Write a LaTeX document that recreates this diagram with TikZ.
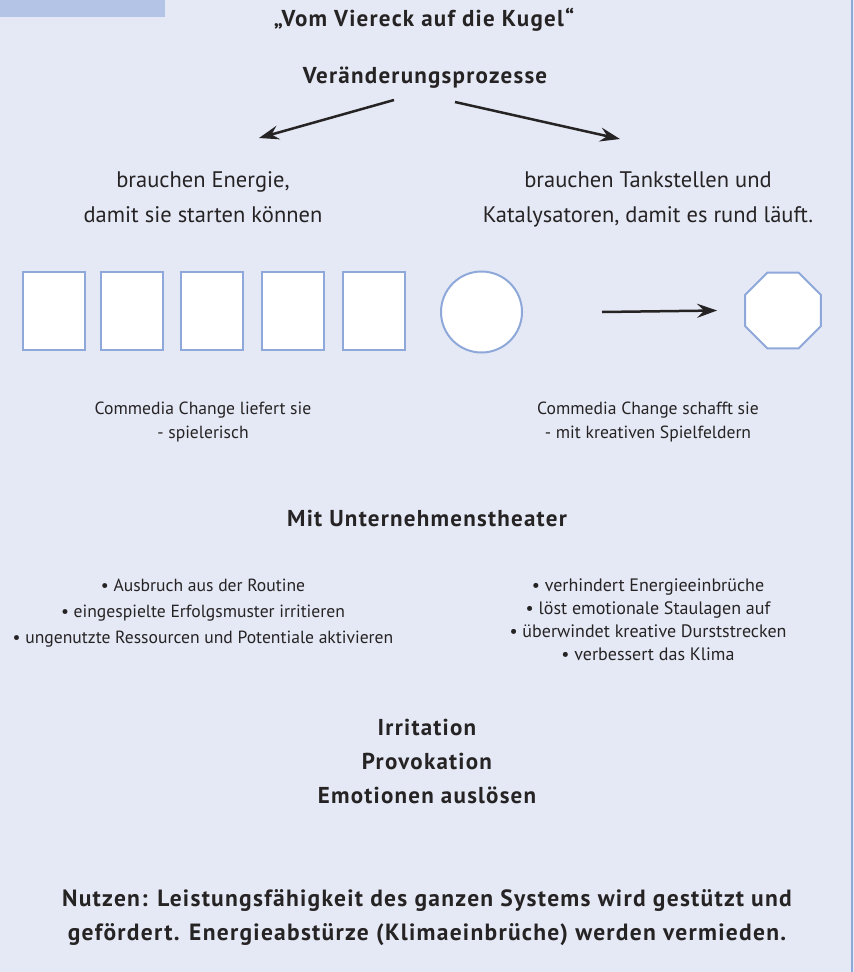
\documentclass[tikz,border=0pt]{standalone}
\usepackage{fontspec}
\setmainfont{PT Sans}
\newfontfamily\bfam{PT Sans}[LetterSpace=5.4]
\usetikzlibrary{arrows.meta,shapes.geometric}
\definecolor{bg}{HTML}{E5E9F5}
\definecolor{tabc}{HTML}{B4C4E6}
\definecolor{edgec}{HTML}{8FA8DA}
\definecolor{ink}{HTML}{262324}
\begin{document}
\begin{tikzpicture}[x=1pt,y=-1pt,
  txt/.style={text=ink, align=center, inner sep=0pt, anchor=base},
  big/.style={txt, font=\fontsize{22.5}{35}\selectfont},
  small/.style={txt, font=\fontsize{17.6}{24}\selectfont},
  head/.style={txt, font=\bfam\bfseries\fontsize{23}{34}\selectfont},
  frame/.style={draw=edgec, line width=2pt, fill=white, inner sep=0pt},
  rectbox/.style={frame, rectangle, minimum width=62pt, minimum height=78pt},
  arr/.style={draw=ink, line width=2.5pt, -{Stealth[length=20pt,width=14pt,inset=7pt]}}
]
\fill[bg] (0,0) rectangle (854,972);
\useasboundingbox (0,0) rectangle (854,972);
\fill[tabc] (0,0) rectangle (165,17);
\draw[edgec, line width=2pt] (852,0) -- (852,972);

\node[head] (title) at (424,26) {„Vom Viereck auf die Kugel“};
\node[head] (vp) at (425,83) {Veränderungsprozesse};

\coordinate (la) at (394,100);
\coordinate (lb) at (259,138);
\coordinate (ra) at (455,102);
\coordinate (rb) at (620,139);
\draw[arr] (la) -- (lb);
\draw[arr] (ra) -- (rb);

\node[big] (left1) at (203,222) {brauchen Energie,\\damit sie starten können};
\node[big] (right1) at (648,222) {brauchen Tankstellen und\\Katalysatoren, damit es rund läuft.};

\node[rectbox] (r1) at (53.5,311) {};
\node[rectbox] (r2) at (132,311) {};
\node[rectbox] (r3) at (211.5,311) {};
\node[rectbox] (r4) at (292.5,311) {};
\node[rectbox] (r5) at (373.5,311) {};
\node[frame, circle, minimum size=81pt] (ball) at (481.5,312) {};
\node[frame, regular polygon, regular polygon sides=8, minimum size=82pt] (oct) at (783,310.5) {};
\coordinate (ha) at ([xshift=79pt]ball.east);
\coordinate (hb) at ([xshift=-27pt]oct.west);
\draw[arr] (ha) -- (hb);

\node[small] (cc1) at (203,438) {Commedia Change liefert sie\\- spielerisch};
\node[small] (cc2) at (648,438) {Commedia Change schafft sie\\- mit kreativen Spielfeldern};

\node[head] (ut) at (427,526) {Mit Unternehmenstheater};

\node[small, font=\fontsize{17.6}{26}\selectfont] (lbul) at (203,643) {• Ausbruch aus der Routine\\• eingespielte Erfolgsmuster irritieren\\• ungenutzte Ressourcen und Potentiale aktivieren};
\node[small, font=\fontsize{18}{23}\selectfont] (rbul) at (648,660) {• verhindert Energieeinbrüche\\• löst emotionale Staulagen auf\\• überwindet kreative Durststrecken\\• verbessert das Klima};

\node[head] (irr) at (427,803) {Irritation\\Provokation\\Emotionen auslösen};

\node[head, font=\bfam\bfseries\fontsize{23.5}{34}\selectfont] (nutzen) at (427,940) {Nutzen: Leistungsfähigkeit des ganzen Systems wird gestützt und\\gefördert. Energieabstürze (Klimaeinbrüche) werden vermieden.};
\end{tikzpicture}
\end{document}
